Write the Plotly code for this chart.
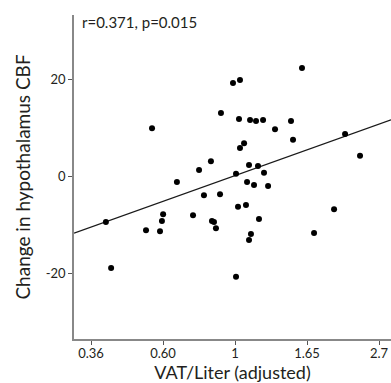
import math
import plotly.graph_objects as go

# VAT/Liter (adjusted) values and change in hypothalamus CBF
vat = [0.408, 0.423, 0.539, 0.562, 0.594, 0.602, 0.607, 0.668, 0.747, 0.779,
       0.806, 0.846, 0.852, 0.864, 0.876, 0.901, 0.907, 0.986, 1.035, 1.007,
       1.007, 1.021, 1.028, 1.035, 1.065, 1.079, 1.087, 1.102, 1.102, 1.110,
       1.117, 1.141, 1.157, 1.173, 1.181, 1.215, 1.223, 1.258, 1.320, 1.475,
       1.496, 1.592, 1.731, 1.989, 2.147, 2.382]
cbf = [-9.3, -18.8, -11.0, 10.0, -11.2, -9.1, -7.7, -1.1, -7.9, 1.4,
       -3.8, 3.2, -9.1, -9.3, -10.6, -3.6, 13.1, 19.3, 19.9, 0.6,
       -20.6, -6.2, 11.9, 5.9, 6.9, -5.8, -1.1, 2.4, -13.0, 11.7,
       -11.8, -1.7, 11.5, 2.2, -8.7, 11.7, 0.8, -1.9, 9.8, 11.5,
       7.6, 22.4, -11.6, -6.7, 8.8, 4.3]

# regression line endpoints
fit_x = [0.327, 2.954]
fit_y = [-11.6, 11.7]

x_tickvals = [math.exp(-1), math.exp(-0.5), 1.0, math.exp(0.5), math.exp(1)]
x_ticktext = ["0.36", "0.60", "1", "1.65", "2.7"]
y_tickvals = [-20, 0, 20]
y_ticktext = ["-20", "0", "20"]

FONT = "Lato"
TXT = "#231f20"

fig = go.Figure()
fig.add_trace(go.Scatter(x=fit_x, y=fit_y, mode="lines",
                         line=dict(color="#1a1a1a", width=1.3),
                         hoverinfo="skip", showlegend=False))
fig.add_trace(go.Scatter(x=vat, y=cbf, mode="markers",
                         marker=dict(color="#000000", size=6),
                         showlegend=False))

fig.update_layout(
    width=391, height=383,
    margin=dict(l=74, r=0, t=15, b=44),
    paper_bgcolor="white", plot_bgcolor="white",
    font=dict(family=FONT, color=TXT, size=13),
    annotations=[dict(text="r=0.371, p=0.015", xref="paper", yref="paper",
                      x=0.018, y=0.978, xanchor="left", yanchor="middle",
                      showarrow=False, font=dict(size=15, family=FONT, color=TXT))],
)
fig.update_xaxes(
    type="log",
    range=[math.log10(math.exp(-1.118)), math.log10(math.exp(1.083))],
    tickvals=x_tickvals, ticktext=x_ticktext,
    ticks="outside", ticklen=4, tickcolor="#555555", tickwidth=1,
    showline=True, linecolor="#888888", linewidth=1.5,
    showgrid=False, zeroline=False,
    tickfont=dict(size=13), ticklabelstandoff=-2,
    title=dict(text="VAT/Liter (adjusted)", font=dict(size=18), standoff=0),
)
fig.update_yaxes(
    range=[-33.4, 33.3],
    tickvals=y_tickvals, ticktext=y_ticktext,
    ticks="outside", ticklen=4, tickcolor="#555555", tickwidth=1,
    showline=True, linecolor="#888888", linewidth=1.5,
    showgrid=False, zeroline=False,
    tickfont=dict(size=13),
    title=dict(text="Change in hypothalamus CBF", font=dict(size=19), standoff=10),
)
fig.write_html("out.html",
               config={"displayModeBar": False, "staticPlot": False},
               post_script="document.body.style.margin='0';document.body.style.overflow='hidden';")
